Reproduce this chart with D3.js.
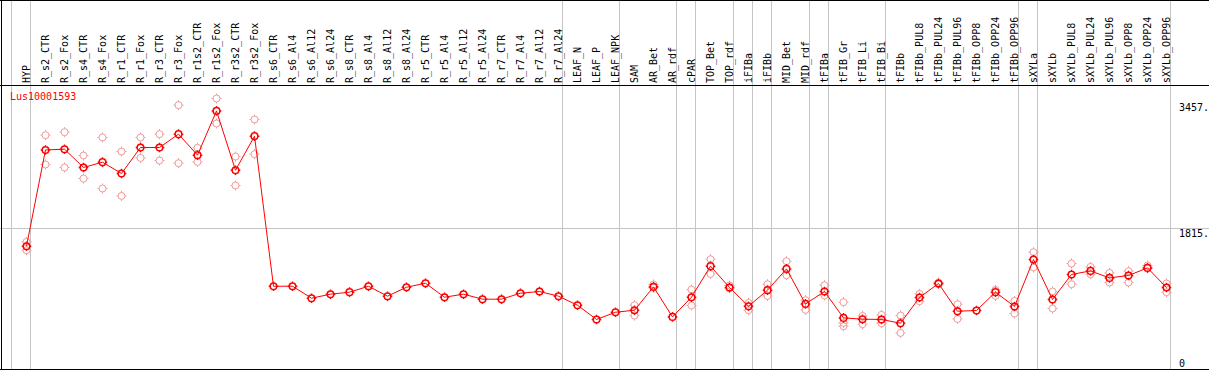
<!DOCTYPE html>
<html>
<head>
<meta charset="utf-8">
<script src="https://cdn.jsdelivr.net/npm/d3@7"></script>
<style>
body{margin:0;background:#fff;}
svg text{font-family:"DejaVu Sans Mono",monospace;font-size:10px;}
</style>
</head>
<body>
<div id="viz"></div>
<script>
var width = 1209
var height = 370

var geneName = "Lus10001593"

var samples = ["HYP","R_s2_CTR","R_s2_Fox","R_s4_CTR","R_s4_Fox","R_r1_CTR","R_r1_Fox","R_r3_CTR","R_r3_Fox",
	"R_r1s2_CTR","R_r1s2_Fox","R_r3s2_CTR","R_r3s2_Fox","R_s6_CTR","R_s6_Al4","R_s6_Al12","R_s6_Al24",
	"R_s8_CTR","R_s8_Al4","R_s8_Al12","R_s8_Al24","R_r5_CTR","R_r5_Al4","R_r5_Al12","R_r5_Al24",
	"R_r7_CTR","R_r7_Al4","R_r7_Al12","R_r7_Al24","LEAF_N","LEAF_P","LEAF_NPK","SAM","AR_Bet","AR_rdf",
	"cPAR","TOP_Bet","TOP_rdf","iFIBa","iFIBb","MID_Bet","MID_rdf","tFIBa","tFIB_Gr","tFIB_Li","tFIB_Bi",
	"tFIBb","tFIBb_PUL8","tFIBb_PUL24","tFIBb_PUL96","tFIBb_OPP8","tFIBb_OPP24","tFIBb_OPP96",
	"sXYLa","sXYLb","sXYLb_PUL8","sXYLb_PUL24","sXYLb_PUL96","sXYLb_OPP8","sXYLb_OPP24","sXYLb_OPP96"];

// mean expression per sample
var means = [1568,2912,2922,2667,2741,2583,2946,2946,3132,2839,3457,2629,3104,
	1009,1009,842,898,926,1009,870,995,1051,856,898,828,828,912,935,870,
	744,545,646,674,1000,581,856,1289,991,730,954,1251,762,935,567,549,545,
	493,852,1047,660,670,926,726,1382,824,1173,1223,1125,1159,1265,991];

// replicates (null = none shown)
var repA = [1628,3118,3160,2834,3086,2890,3086,3132,3537,2941,3630,2820,3337,
	null,null,null,null,null,null,null,null,null,null,null,null,null,null,null,null,
	null,null,null,744,1033,null,963,1386,1019,776,1037,1358,814,1023,786,595,609,
	600,902,1061,758,null,958,804,1484,935,1326,1279,1195,1219,1298,1047];
var repB = [1512,2709,2667,2513,2374,2270,2801,2764,2727,2745,3281,2415,2853,
	null,null,null,null,null,null,null,null,null,null,null,null,null,null,null,null,
	null,null,null,600,991,null,740,1181,982,674,874,1163,679,880,497,479,493,
	357,800,1037,553,null,874,628,1271,698,1037,1177,1061,1061,1261,926];
var repC = [null,null,null,null,null,null,null,null,null,null,null,null,null,
	null,null,null,null,null,null,null,null,null,null,null,null,null,null,null,null,
	null,null,null,null,null,null,null,null,null,null,null,null,null,null,451,null,null,
	null,null,null,null,null,null,null,null,null,null,null,null,null,null,null];

// first column of each tissue group (last entry = end)
var groupStarts = [0,1,29,32,35,36,38,39,40,42,43,46,53,54,61];

var tickValues = [3457,1815,0];
var tickLabels = ["3457.","1815.","0"];
var gridValues = [1815];

var svg = d3.select("#viz")
	.append("svg")
	.attr("width",width)
	.attr("height",height);

svg.append("rect")
	.attr("width",width)
	.attr("height",height)
	.attr("fill","#fff");

var reps = [];
[repA,repB,repC].forEach(function(arr){
	arr.forEach(function(v,i){
		if(v!==null) reps.push({sample:samples[i],value:v});
	});
});

var yMax = d3.max(reps,function(d){return d.value;});

var xScale = d3.scalePoint()
	.domain(samples)
	.range([26.5,1166.5]);

var step = xScale.step();

var yScale = d3.scaleLinear()
	.domain([0,yMax])
	.range([358.5,98.5]);

// group separators
svg.selectAll(".sep")
	.data(groupStarts)
	.enter()
	.append("line")
	.attr("x1",function(k){return Math.floor(26.5 + k*step - 15) + 0.5;})
	.attr("x2",function(k){return Math.floor(26.5 + k*step - 15) + 0.5;})
	.attr("y1",0)
	.attr("y2",height)
	.attr("stroke","#c4c4c4")
	.attr("stroke-width",1);

// horizontal grid
svg.selectAll(".grid")
	.data(gridValues)
	.enter()
	.append("line")
	.attr("x1",0)
	.attr("x2",width)
	.attr("y1",function(d){return Math.floor(yScale(d)) + 0.5;})
	.attr("y2",function(d){return Math.floor(yScale(d)) + 0.5;})
	.attr("stroke","#c4c4c4");

// frame
svg.append("line").attr("x1",0).attr("x2",width).attr("y1",0.5).attr("y2",0.5).attr("stroke","#000");
svg.append("line").attr("x1",0).attr("x2",width).attr("y1",85.5).attr("y2",85.5).attr("stroke","#000");
svg.append("line").attr("x1",0).attr("x2",width).attr("y1",369.5).attr("y2",369.5).attr("stroke","#000");
svg.append("line").attr("x1",1.5).attr("x2",1.5).attr("y1",0).attr("y2",height).attr("stroke","#000");

// column labels
svg.selectAll(".lab")
	.data(samples)
	.enter()
	.append("text")
	.attr("transform",function(d){return "translate(" + (xScale(d)+3) + ",83) rotate(-90)";})
	.attr("text-anchor","start")
	.attr("fill","#000")
	.text(function(d){return d;});

// y labels
svg.selectAll(".ylab")
	.data(tickValues)
	.enter()
	.append("text")
	.attr("x",1179)
	.attr("y",function(d,i){return yScale(d) + (i===0 ? 0 : 8);})
	.attr("fill","#000")
	.text(function(d,i){return tickLabels[i];});

svg.append("text")
	.text(geneName)
	.attr("x",10)
	.attr("y",100)
	.attr("fill","red");

function marker(r){
	return "M" + (-r) + ",0a" + r + "," + r + " 0 1,0 " + (2*r) + ",0a" + r + "," + r + " 0 1,0 " + (-2*r) + ",0" +
		"M0," + (-r-1.5) + "V" + (-r) + "M0," + r + "V" + (r+1.5) +
		"M" + (-r-1.5) + ",0H" + (-r) + "M" + r + ",0H" + (r+1.5);
}

svg.selectAll(".rep")
	.data(reps)
	.enter()
	.append("path")
	.attr("d",marker(3.5))
	.attr("transform",function(d){return "translate(" + xScale(d.sample) + "," + yScale(d.value) + ")";})
	.attr("fill","none")
	.attr("stroke","#f09a9a")
	.attr("stroke-width",1);

var meanData = samples.map(function(s,i){return {sample:s,value:means[i]};});

var valueLine = d3.line()
	.x(function(d){return xScale(d.sample);})
	.y(function(d){return yScale(d.value);});

svg.append("path")
	.datum(meanData)
	.attr("d",valueLine)
	.attr("fill","none")
	.attr("stroke","red")
	.attr("stroke-width",1);

svg.selectAll(".mean")
	.data(meanData)
	.enter()
	.append("path")
	.attr("d",marker(3.3))
	.attr("transform",function(d){return "translate(" + xScale(d.sample) + "," + yScale(d.value) + ")";})
	.attr("fill","none")
	.attr("stroke","red")
	.attr("stroke-width",1.5);
</script>
</body>
</html>
